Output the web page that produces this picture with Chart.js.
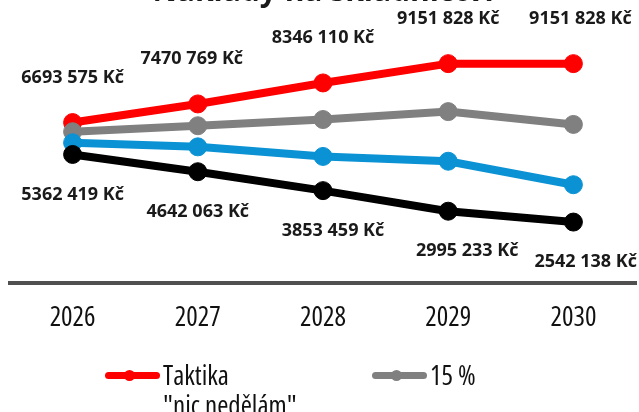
<!DOCTYPE html>
<html>
<head>
<meta charset="utf-8">
<script src="https://cdn.jsdelivr.net/npm/chart.js@4.4.1/dist/chart.umd.min.js"></script>
<style>
  html, body { margin: 0; padding: 0; width: 639px; height: 412px; overflow: hidden; background: #fff; }
  #wrap { position: absolute; left: 0; top: -30px; width: 639px; height: 400px; }
  #legend { position: absolute; left: 0; top: 0; width: 639px; height: 412px;
            font-family: "Open Sans", sans-serif; font-stretch: 87%; font-size: 27px; color: #111; }
  .item { position: absolute; display: flex; align-items: flex-start; }
  .sample { position: relative; width: 55px; height: 7px; border-radius: 4px; margin-top: 11.5px; }
  .sample i { position: absolute; left: 19px; top: -2px; width: 11px; height: 11px; border-radius: 50%; background: inherit; }
  .text { margin-left: 3px; line-height: 30px; white-space: pre-line; }
</style>
</head>
<body>
<div id="wrap"><canvas id="chart" width="639" height="400"></canvas></div>
<div id="legend"></div>
<script>
// ===============================
// data
// ===============================
const years = ["2026", "2027", "2028", "2029", "2030"];
const seriesNames = ['Taktika\n"nic nedělám"', "15 %", "30 %", "50 %"];
const seriesColors = ["#ff0000", "#808080", "#0a92d4", "#000000"];

const taktika = [6693575, 7470769, 8346110, 9151828, 9151828];
const pct15   = [6310000, 6560000, 6820000, 7150000, 6615000];
const pct30   = [5850000, 5680000, 5280000, 5080000, 4100000];
const pct50   = [5362419, 4642063, 3853459, 2995233, 2542138];

const fmt = v => {
    const s = String(Math.round(v));
    return s.slice(0, -3) + " " + s.slice(-3) + " Kč";
};

// value labels above the red line and below the black line
const valueLabels = {
    id: "valueLabels",
    afterDatasetsDraw(chart) {
        const ctx = chart.ctx;
        ctx.save();
        ctx.font = 'bold 18px "Open Sans"';
        ctx.fillStyle = "#1a1a1a";
        ctx.textAlign = "center";
        ctx.textBaseline = "middle";
        chart.data.datasets.forEach((ds, i) => {
            if (ds.labelOffset == null) return;
            chart.getDatasetMeta(i).data.forEach((pt, j) => {
                const text = fmt(ds.data[j]);
                const w = ctx.measureText(text).width;
                const dx = ds.labelDx ? ds.labelDx[j] : 0;
                const x = Math.min(Math.max(pt.x + dx, w / 2 + 2), chart.width - w / 2 - 2);
                ctx.fillText(text, x, pt.y + ds.labelOffset);
            });
        });
        ctx.restore();
    }
};

const lineSet = (idx, data, order, extra) => Object.assign({
    label: seriesNames[idx].replace("\n", " "),
    data: data,
    borderColor: seriesColors[idx],
    backgroundColor: seriesColors[idx],
    borderWidth: 8,
    pointRadius: 9,
    pointBorderWidth: 1,
    pointBackgroundColor: seriesColors[idx],
    pointBorderColor: seriesColors[idx],
    tension: 0,
    order: order
}, extra || {});

new Chart(document.getElementById("chart"), {
    type: "line",
    data: {
        labels: years,
        datasets: [
            lineSet(0, taktika, 3, { labelOffset: -45, labelDx: [0, -6, 0, 0, 7] }),
            lineSet(1, pct15, 2),
            lineSet(2, pct30, 1),
            lineSet(3, pct50, 0, { labelOffset: 40, labelDx: [0, 0, 10, 19, 14] })
        ]
    },
    options: {
        responsive: false,
        animation: false,
        layout: {
            autoPadding: false,
            padding: { left: 10, right: 3, top: 0, bottom: 16.6 }
        },
        scales: {
            x: {
                offset: true,
                grid: { display: false, drawTicks: false },
                border: { display: true, color: "#505050", width: 4 },
                ticks: {
                    padding: 19,
                    color: "#111",
                    font: { family: "Open Sans", weight: "extra-condensed", size: 27 }
                }
            },
            y: {
                display: false,
                min: 0,
                max: 10000000
            }
        },
        plugins: {
            legend: { display: false },
            tooltip: { enabled: false },
            title: {
                display: true,
                text: "Náklady na skladnictví",
                color: "#1a1a1a",
                font: { family: "Open Sans", size: 30, weight: "bold" },
                padding: { top: 4, bottom: 33.3 }
            }
        }
    },
    plugins: [valueLabels]
});

// ===============================
// legend (html, two columns)
// ===============================
const legend = document.getElementById("legend");
seriesNames.forEach((name, i) => {
    const item = document.createElement("div");
    item.className = "item";
    item.style.left = (i % 2 === 0 ? 105 : 372) + "px";
    item.style.top = (360 + Math.floor(i / 2) * 75) + "px";
    const sample = document.createElement("span");
    sample.className = "sample";
    sample.style.background = seriesColors[i];
    sample.appendChild(document.createElement("i"));
    const text = document.createElement("span");
    text.className = "text";
    text.textContent = name;
    item.appendChild(sample);
    item.appendChild(text);
    legend.appendChild(item);
});
</script>
</body>
</html>
